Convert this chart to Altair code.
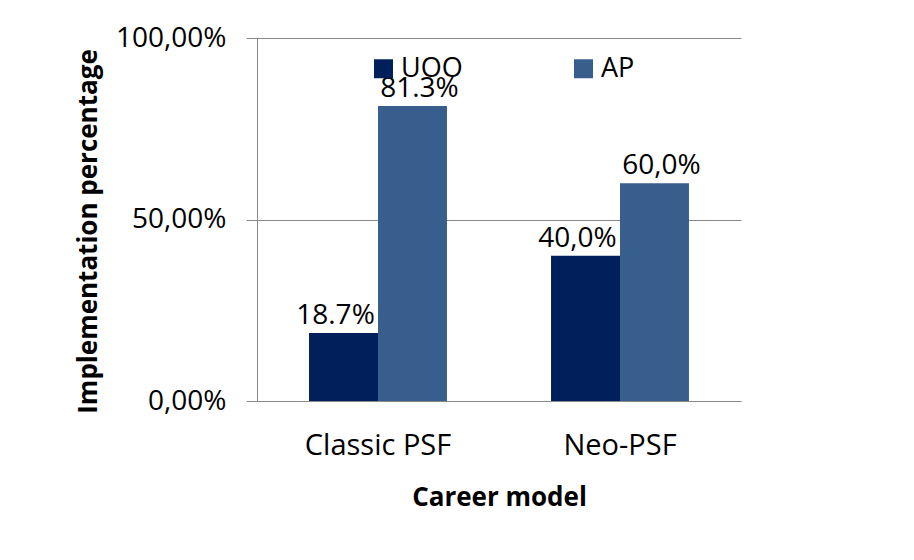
import altair as alt
import pandas as pd

categories = ["Classic PSF", "Classic PSF", "Neo-PSF", "Neo-PSF"]
series = ["UOO", "AP", "UOO", "AP"]
values = [0.187, 0.813, 0.40, 0.60]
labels = ["18.7%", "81.3%", "40,0%", "60,0%"]
series_order = ["UOO", "AP"]
colors = ["#001F5B", "#385E8E"]
y_ticks = [0, 0.5, 1.0]

df = pd.DataFrame({"model": categories, "series": series, "value": values, "label": labels})

FONT = "Open Sans"

x_enc = alt.X("model:N", title="Career model", sort=["Classic PSF", "Neo-PSF"],
              scale=alt.Scale(paddingInner=0.43, paddingOuter=0.215),
              axis=alt.Axis(labelAngle=0, ticks=False, labelPadding=30, titlePadding=24,
                            labelFontSize=29, titleFontSize=26, titleFontWeight="bold",
                            domainColor="#898989", labelColor="black", titleColor="black"))
y_enc = alt.Y("value:Q", title="Implementation percentage",
              scale=alt.Scale(domain=[0, 1], nice=False),
              axis=alt.Axis(values=y_ticks, format=".2%",
                            labelExpr="replace(datum.label, '.', ',')",
                            tickSize=11, labelPadding=20, titlePadding=14, titleY=193,
                            labelFontSize=28, titleFontSize=26, titleFontWeight="bold",
                            domainColor="#898989", tickColor="#898989", gridColor="#898989",
                            labelColor="black", titleColor="black"))
xo = alt.XOffset("series:N", sort=series_order)

bars = alt.Chart(df).mark_bar().encode(
    x=x_enc, y=y_enc, xOffset=xo,
    color=alt.Color("series:N", sort=series_order,
                    scale=alt.Scale(domain=series_order, range=colors),
                    legend=alt.Legend(title=None, orient="none", legendX=113, legendY=17,
                                      direction="horizontal", columns=2, symbolType="square",
                                      symbolSize=361, symbolStrokeWidth=0, symbolOpacity=1,
                                      labelFontSize=27, labelColor="black", columnPadding=107,
                                      symbolOffset=0, labelOffset=4, padding=0)),
)


def label_layer(name, shift):
    return alt.Chart(df).transform_filter(alt.datum.series == name).mark_text(
        baseline="bottom", dy=-3, dx=shift, fontSize=28, font=FONT, color="black"
    ).encode(
        x=alt.X("model:N", sort=["Classic PSF", "Neo-PSF"]),
        y=alt.Y("value:Q"), xOffset=xo, text="label:N",
    )


chart = (bars + label_layer("UOO", -8) + label_layer("AP", 7)).properties(
    width=484, height=363,
    autosize=alt.AutoSizeParams(type="none"),
    padding={"left": 249, "top": 30, "right": 160, "bottom": 150},
).configure(font=FONT).configure_view(stroke=None)

chart.save("out.html", embed_options={"renderer": "svg", "actions": False})
